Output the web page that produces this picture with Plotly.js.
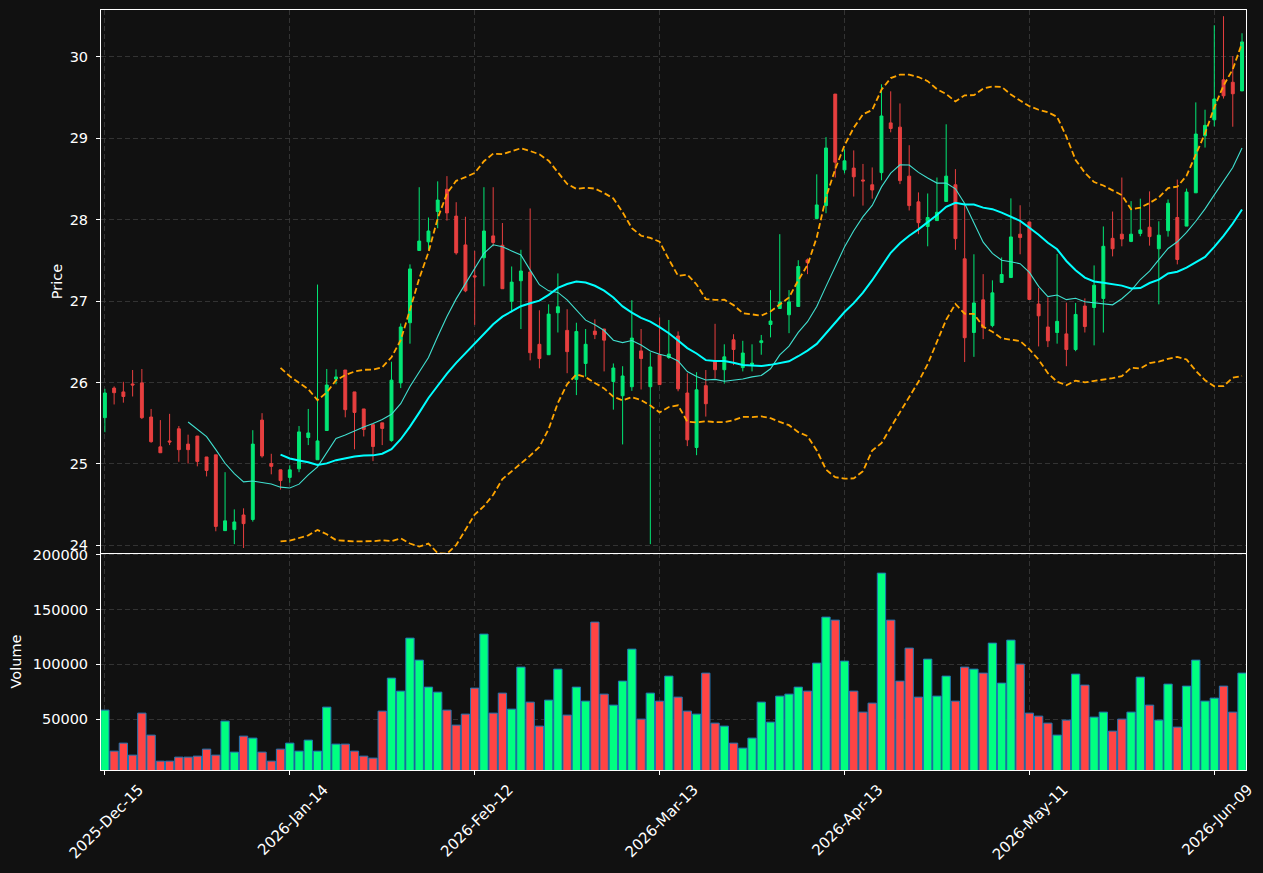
<!DOCTYPE html>
<html><head><meta charset="utf-8">
<script src="https://cdn.plot.ly/plotly-3.0.1.min.js"></script>
<style>html,body{margin:0;padding:0;background:#111111;}</style>
</head><body>
<div id="chart" style="width:1263px;height:873px;"></div>
<script>
// ---- data ----
const tickIndex = [0, 20, 40, 60, 80, 100, 120];
const tickLabels = ['2025-Dec-15', '2026-Jan-14', '2026-Feb-12', '2026-Mar-13', '2026-Apr-13', '2026-May-11', '2026-Jun-09'];

const openP = [25.568,25.931,25.884,25.982,25.995,25.576,25.209,25.282,25.431,25.243,
25.342,25.085,25.111,24.180,24.193,24.372,24.317,25.538,25.004,24.927,
24.834,24.940,25.324,25.051,25.410,26.042,26.153,25.884,25.675,25.482,
25.504,25.286,25.995,26.734,27.622,27.728,28.100,28.373,28.044,27.690,
27.310,27.532,27.801,27.686,26.998,27.250,27.357,26.469,26.341,26.857,
26.640,26.038,26.234,26.631,26.657,26.012,25.837,25.948,26.388,25.948,
26.341,26.307,26.571,25.871,25.201,25.961,26.264,26.157,26.524,26.183,
26.221,26.490,26.712,26.909,26.832,26.934,27.506,28.015,28.173,29.543,
28.612,28.634,28.488,28.429,28.578,29.189,29.137,28.535,28.219,27.916,
27.989,28.224,28.429,27.519,26.614,27.015,26.699,27.229,27.289,27.822,
27.972,26.964,26.682,26.614,26.597,26.405,26.939,26.921,27.032,27.771,
27.822,27.733,27.831,27.908,27.643,27.865,28.027,27.921,28.330,29.031,
29.227,29.718,29.688,29.582];
const highP = [25.922,25.952,26.008,26.153,26.166,25.675,25.538,25.615,25.465,25.359,
25.342,25.085,25.111,24.898,24.441,24.454,25.414,25.623,25.124,24.927,
24.983,25.465,25.675,27.203,26.166,26.161,26.153,25.884,25.675,25.482,
25.504,26.255,26.725,27.451,28.399,28.027,28.471,28.535,28.215,28.036,
27.617,28.399,28.399,27.959,27.425,27.630,28.138,26.887,26.960,27.340,
26.900,26.734,26.657,26.776,26.657,26.234,26.200,27.011,26.657,26.371,
26.798,26.768,26.627,26.114,26.127,26.153,26.721,26.469,26.593,26.512,
26.469,26.584,27.135,27.822,27.135,27.502,27.523,28.557,29.014,29.543,
28.864,28.851,28.685,28.642,29.663,29.577,29.428,28.915,28.335,28.322,
28.518,29.172,28.621,28.180,27.575,27.331,27.255,27.536,28.262,28.177,
27.972,27.161,27.045,27.579,26.981,26.977,27.033,27.438,27.917,28.100,
28.518,28.228,28.258,28.348,27.980,28.249,28.493,28.382,29.441,29.351,
30.389,30.500,30.009,30.290];
const lowP = [25.389,25.730,25.752,25.828,25.551,25.260,25.137,25.231,25.026,25.004,
24.970,24.846,24.172,24.180,24.014,23.967,24.291,25.077,24.872,24.684,
24.770,24.898,25.231,25.051,25.410,25.978,25.572,25.179,25.337,25.034,
25.231,25.273,25.931,26.477,27.622,27.630,27.895,27.989,27.570,27.109,
26.708,27.182,27.673,27.152,26.862,26.657,26.272,26.174,26.341,26.614,
26.114,25.845,26.072,26.533,26.136,25.666,25.239,25.897,25.914,24.014,
25.974,26.290,25.892,25.218,25.107,25.581,26.050,25.986,26.213,26.136,
26.136,26.341,26.554,26.909,26.606,26.934,27.331,28.015,28.079,28.518,
28.570,28.284,28.173,28.258,28.484,29.073,28.437,28.113,27.822,27.673,
27.989,28.224,27.630,26.251,26.315,26.533,26.678,27.229,27.289,27.575,
27.020,26.443,26.435,26.477,26.200,26.384,26.614,26.456,26.614,27.549,
27.673,27.724,27.797,27.681,26.960,27.792,27.451,27.921,28.330,28.886,
29.146,29.488,29.142,29.582];
const closeP = [25.871,25.875,25.828,25.969,25.568,25.273,25.137,25.269,25.175,25.175,
25.030,24.919,24.232,24.300,24.287,24.266,25.243,25.098,24.970,24.795,
24.927,25.393,25.380,25.282,25.969,26.068,25.666,25.632,25.423,25.214,
25.436,26.029,26.682,27.395,27.737,27.861,28.241,28.083,27.592,27.126,
27.297,27.861,27.720,27.152,27.233,27.370,26.366,26.294,26.840,26.930,
26.379,26.627,26.469,26.588,26.520,26.178,26.080,26.546,26.294,26.191,
25.974,26.349,25.922,25.295,25.910,25.739,26.157,26.315,26.405,26.362,
26.238,26.512,26.755,26.990,26.990,27.425,27.472,28.181,28.881,28.706,
28.723,28.527,28.476,28.365,29.274,29.120,28.480,28.173,27.963,28.027,
28.091,28.535,27.767,26.550,26.977,26.674,27.101,27.327,27.788,27.780,
27.020,26.819,26.512,26.751,26.405,26.836,26.687,27.195,27.673,27.643,
27.763,27.822,27.874,27.792,27.810,28.202,27.511,28.339,29.052,29.159,
29.483,29.522,29.547,30.184];
const volume = [58280,20850,28150,17190,55540,35450,11720,11720,15370,15370,
16280,22670,17190,48230,19930,34540,32720,19930,11720,22670,
28150,20850,30890,20850,61020,27240,27240,20850,16280,14460,
57370,87490,75620,124010,103930,79280,74710,58280,44580,54630,
78360,127660,55540,73800,59190,97530,65580,43670,67410,95710,
53710,79280,66490,138620,72880,62840,84750,113970,50060,73800,
66490,89320,70150,57370,54630,92060,46410,43670,28150,23580,
32720,65580,47320,71060,72880,79280,75620,101190,143180,140440,
103010,75620,56450,64670,183350,140440,84750,114880,70150,104840,
71060,89320,66490,97530,95710,92060,119450,82930,122190,100270,
55540,52800,46410,35450,49150,91140,81100,51890,56450,39100,
50060,56450,88410,62840,49150,82010,42760,80190,103930,66490,
69230,80190,56450,92060];

// ---- derived series (same as the original indicator overlays) ----
const idx = closeP.map((_, i) => i);
function rollingMean(arr, n) {
  return arr.map((_, i) => {
    if (i < n - 1) return null;
    let s = 0; for (let k = i - n + 1; k <= i; k++) s += arr[k];
    return s / n;
  });
}
function rollingStd(arr, n) {
  const m = rollingMean(arr, n);
  return arr.map((_, i) => {
    if (i < n - 1) return null;
    let s = 0; for (let k = i - n + 1; k <= i; k++) s += (arr[k] - m[i]) ** 2;
    return Math.sqrt(s / n);
  });
}
const ma10 = rollingMean(closeP, 10);
const ma20 = rollingMean(closeP, 20);
const sd20 = rollingStd(closeP, 20);
const bbUpper = ma20.map((v, i) => v === null ? null : v + 2 * sd20[i]);
const bbLower = ma20.map((v, i) => v === null ? null : v - 2 * sd20[i]);

const UP_C = '#02e775', DN_C = '#e73f3f';
const UP_V = '#00ff80', DN_V = '#ff4444';
const volColors = closeP.map((c, i) => c >= openP[i] ? UP_V : DN_V);

const GRID = '#3c3c3c';
const traces = [
  {
    type: 'candlestick', x: idx, open: openP, high: highP, low: lowP, close: closeP,
    xaxis: 'x2', yaxis: 'y',
    increasing: { line: { color: UP_C, width: 1 }, fillcolor: UP_C },
    decreasing: { line: { color: DN_C, width: 1 }, fillcolor: DN_C },
    whiskerwidth: 0, hoverinfo: 'skip'
  },
  { type: 'scatter', mode: 'lines', x: idx, y: ma10, xaxis: 'x2', yaxis: 'y',
    line: { color: '#40E0D0', width: 1.1 }, hoverinfo: 'skip' },
  { type: 'scatter', mode: 'lines', x: idx, y: ma20, xaxis: 'x2', yaxis: 'y',
    line: { color: '#00FFFF', width: 2 }, hoverinfo: 'skip' },
  { type: 'scatter', mode: 'lines', x: idx, y: bbUpper, xaxis: 'x2', yaxis: 'y',
    line: { color: '#FFA500', width: 1.8, dash: '6px,3px' }, hoverinfo: 'skip' },
  { type: 'scatter', mode: 'lines', x: idx, y: bbLower, xaxis: 'x2', yaxis: 'y',
    line: { color: '#FFA500', width: 1.8, dash: '6px,3px' }, hoverinfo: 'skip' },
  { type: 'bar', x: idx, y: volume, xaxis: 'x', yaxis: 'y2', width: 0.9,
    marker: { color: volColors, line: { color: '#1f77b4', width: 1 } }, hoverinfo: 'skip' }
];

const axisCommon = {
  showline: true, linecolor: '#ffffff', linewidth: 1,
  showgrid: true, gridcolor: GRID, gridwidth: 0.8, griddash: '5px,3px',
  zeroline: false, tickcolor: '#ffffff', tickfont: { color: '#ffffff', size: 14.5, family: 'DejaVu Sans' }
};

const layout = {
  width: 1263, height: 873,
  paper_bgcolor: '#111111', plot_bgcolor: '#111111',
  margin: { l: 101, r: 17, t: 10, b: 103, pad: 0 },
  showlegend: false,
  boxgap: 0.55,
  font: { family: 'DejaVu Sans', size: 14.5, color: '#ffffff' },
  xaxis: Object.assign({}, axisCommon, {
    domain: [0, 1], anchor: 'y2', range: [-0.42, 123.43],
    tickmode: 'array', tickvals: tickIndex, ticktext: tickLabels,
    tickangle: -45, ticks: 'outside', ticklen: 4, ticklabelshift: 34,
    tickfont: { color: '#ffffff', size: 15, family: 'DejaVu Sans' },
    mirror: false, rangeslider: { visible: false }
  }),
  xaxis2: Object.assign({}, axisCommon, {
    domain: [0, 1], anchor: 'y', matches: 'x',
    tickmode: 'array', tickvals: tickIndex, showticklabels: false, ticks: '',
    mirror: true, rangeslider: { visible: false }
  }),
  yaxis: Object.assign({}, axisCommon, {
    domain: [0.2855, 1], anchor: 'x2', range: [23.905, 30.576],
    tickmode: 'array', tickvals: [24, 25, 26, 27, 28, 29, 30],
    ticks: 'outside', ticklen: 4, ticklabelstandoff: 5, mirror: true,
    title: { text: 'Price', standoff: 3, font: { size: 14.5, color: '#ffffff' } }
  }),
  yaxis2: Object.assign({}, axisCommon, {
    domain: [0, 0.2855], anchor: 'x', range: [3600, 201700],
    tickmode: 'array', tickvals: [50000, 100000, 150000, 200000],
    ticktext: ['50000', '100000', '150000', '200000'],
    ticks: 'outside', ticklen: 4, ticklabelstandoff: 5, mirror: true,
    title: { text: 'Volume', standoff: 7, font: { size: 14.5, color: '#ffffff' } }
  })
};

Plotly.newPlot('chart', traces, layout, { displayModeBar: false, staticPlot: true });
</script>
</body></html>
